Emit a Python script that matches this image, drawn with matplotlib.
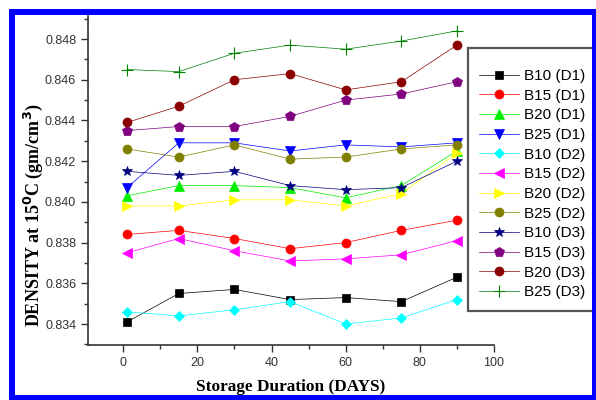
import matplotlib
matplotlib.use("Agg")
import matplotlib.pyplot as plt
from matplotlib.patches import Rectangle
from matplotlib.ticker import MultipleLocator

# Storage days at which density was measured
days = [1, 15, 30, 45, 60, 75, 90]

# Density at 15 C (gm/cm3) for each blend / diesel combination
b10_d1 = [0.8341, 0.8355, 0.8357, 0.8352, 0.8353, 0.8351, 0.8363]
b15_d1 = [0.8384, 0.8386, 0.8382, 0.8377, 0.8380, 0.8386, 0.8391]
b20_d1 = [0.8403, 0.8408, 0.8408, 0.8407, 0.8402, 0.8408, 0.8425]
b25_d1 = [0.8407, 0.8429, 0.8429, 0.8425, 0.8428, 0.8427, 0.8429]
b10_d2 = [0.8346, 0.8344, 0.8347, 0.8351, 0.8340, 0.8343, 0.8352]
b15_d2 = [0.8375, 0.8382, 0.8376, 0.8371, 0.8372, 0.8374, 0.8381]
b20_d2 = [0.8398, 0.8398, 0.8401, 0.8401, 0.8398, 0.8404, 0.8424]
b25_d2 = [0.8426, 0.8422, 0.8428, 0.8421, 0.8422, 0.8426, 0.8428]
b10_d3 = [0.8415, 0.8413, 0.8415, 0.8408, 0.8406, 0.8407, 0.8420]
b15_d3 = [0.8435, 0.8437, 0.8437, 0.8442, 0.8450, 0.8453, 0.8459]
b20_d3 = [0.8439, 0.8447, 0.8460, 0.8463, 0.8455, 0.8459, 0.8477]
b25_d3 = [0.8465, 0.8464, 0.8473, 0.8477, 0.8475, 0.8479, 0.8484]

labels = ["B10 (D1)", "B15 (D1)", "B20 (D1)", "B25 (D1)",
          "B10 (D2)", "B15 (D2)", "B20 (D2)", "B25 (D2)",
          "B10 (D3)", "B15 (D3)", "B20 (D3)", "B25 (D3)"]
series = [b10_d1, b15_d1, b20_d1, b25_d1,
          b10_d2, b15_d2, b20_d2, b25_d2,
          b10_d3, b15_d3, b20_d3, b25_d3]

colors = ["#000000", "#ff0000", "#00ee00", "#0000ff",
          "#00ffff", "#ff00ff", "#ffff00", "#808000",
          "#000080", "#800080", "#8b0000", "#008000"]
markers = ["s", "o", "^", "v", "D", "<", ">", "o", "*", "p", "o", "+"]
sizes = [5.5, 6.5, 7, 7, 5.5, 7, 7, 6.5, 7.5, 7, 6.5, 8]

fig = plt.figure(figsize=(5.96, 4.0), dpi=100)
ax = fig.add_axes([88 / 596, 55 / 400, 406 / 596, 329 / 400])

for y, lab, c, m, s in zip(series, labels, colors, markers, sizes):
    ax.plot(days, y, color=c, lw=0.5, marker=m, markersize=s,
            markeredgecolor=c, markeredgewidth=0.8 if m == "+" else 0.5,
            label=lab)

ax.set_xlim(-9.5, 100)
ax.set_ylim(0.83297, 0.84913)
ax.xaxis.set_major_locator(MultipleLocator(20))
ax.xaxis.set_minor_locator(MultipleLocator(10))
ax.yaxis.set_major_locator(MultipleLocator(0.002))
ax.yaxis.set_minor_locator(MultipleLocator(0.001))
ax.yaxis.set_major_formatter(plt.FormatStrFormatter("%.3f"))

for side in ["top", "right"]:
    ax.spines[side].set_visible(False)
for side in ["left", "bottom"]:
    ax.spines[side].set_linewidth(1.2)
    ax.spines[side].set_color("#333333")

ax.tick_params(which="major", direction="out", length=5, width=1.0,
               color="#333333", labelsize=9, labelcolor="#333333")
ax.tick_params(which="minor", direction="out", length=3, width=1.0,
               color="#333333")
for t in ax.get_xticklabels() + ax.get_yticklabels():
    t.set_family("Liberation Sans")

ax.set_xlabel("Storage Duration (DAYS)", family="Liberation Serif",
              fontweight="bold", fontsize=12.4, labelpad=7)
ax.set_ylabel(r"DENSITY at 15$^{\mathbf{0}}$C (gm/cm$^{\mathbf{3}}$)",
              family="Liberation Serif", fontweight="bold", fontsize=13)
ax.yaxis.set_label_coords(-0.105, 0.395)

# a tiny blank title gives the legend its extra space above the first entry
leg = fig.legend(loc="upper left", bbox_to_anchor=(468 / 596, 1 - 48 / 400),
                 borderaxespad=0, prop={"family": "Liberation Sans", "size": 11},
                 handlelength=2.6, handletextpad=0.3, labelspacing=0.37,
                 borderpad=0.75, fancybox=False, framealpha=1.0,
                 title=" ", title_fontsize=3)
leg.get_frame().set_edgecolor("#555555")
leg.get_frame().set_linewidth(1.6)

# blue border around the whole figure
fig.patches.append(Rectangle((12 / 596, 2.5 / 400), 583 / 596, 385.5 / 400,
                             transform=fig.transFigure, fill=False,
                             edgecolor="#0000ff", lw=4.3, zorder=10))

fig.savefig("out.png", dpi=100)
